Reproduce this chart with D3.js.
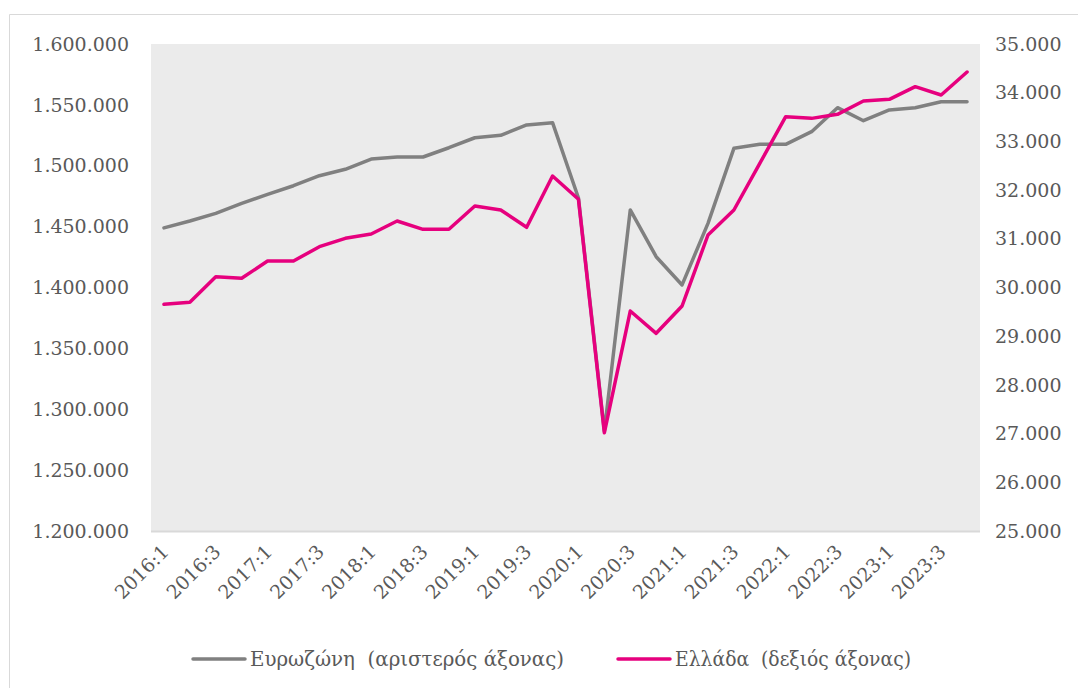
<!DOCTYPE html>
<meta charset="utf-8">
<style>
  body { margin: 0; background: #fff; }
  .tick-label { font: 19px "DejaVu Serif", serif; fill: #595959; }
  .legend-label { font: 20px "DejaVu Serif", serif; fill: #595959; white-space: pre; }
</style>
<svg width="1078" height="688"></svg>
<script src="https://d3js.org/d3.v7.min.js"></script>
<script>
  // quarters 2016:1 .. 2023:4
  var quarters = [
    "2016:1","2016:2","2016:3","2016:4","2017:1","2017:2","2017:3","2017:4",
    "2018:1","2018:2","2018:3","2018:4","2019:1","2019:2","2019:3","2019:4",
    "2020:1","2020:2","2020:3","2020:4","2021:1","2021:2","2021:3","2021:4",
    "2022:1","2022:2","2022:3","2022:4","2023:1","2023:2","2023:3","2023:4"
  ];

  // Eurozone (left axis)
  var euroArea = [
    1449000, 1454600, 1460900, 1469100, 1476500, 1483600, 1491800, 1497100,
    1505500, 1507200, 1507200, 1514800, 1523000, 1525000, 1533500, 1535400,
    1473500, 1282000, 1463700, 1425300, 1402100, 1452700, 1514300, 1517600,
    1517600, 1528000, 1547700, 1537000, 1545800, 1547700, 1552600, 1552600
  ];

  // Greece (right axis)
  var greece = [
    29655, 29696, 30222, 30189, 30544, 30544, 30838, 31010,
    31099, 31366, 31195, 31195, 31674, 31591, 31236, 32290,
    31811, 27018, 29517, 29059, 29620, 31078, 31591, 32550,
    33508, 33473, 33556, 33830, 33864, 34124, 33953, 34425
  ];

  var leftTicks = [1200000, 1250000, 1300000, 1350000, 1400000, 1450000, 1500000, 1550000, 1600000];
  var rightTicks = [25000, 26000, 27000, 28000, 29000, 30000, 31000, 32000, 33000, 34000, 35000];

  var seriesNames = ["Ευρωζώνη  (αριστερός άξονας)", "Ελλάδα  (δεξιός άξονας)"];
  var seriesColors = ["#808080", "#e6007e"];

  var svg = d3.select("svg");
  var plot = { left: 151, right: 980, top: 44, bottom: 531 };

  // frame
  svg.append("path")
    .attr("d", "M9.5,688 V14.5 H1078")
    .attr("fill", "none")
    .attr("stroke", "#d9d9d9")
    .attr("stroke-width", 1);

  var x = d3.scaleBand().domain(quarters).range([plot.left, plot.right]);
  var yL = d3.scaleLinear().domain([1200000, 1600000]).range([plot.bottom, plot.top]);
  var yR = d3.scaleLinear().domain([25000, 35000]).range([plot.bottom, plot.top]);

  var fmt = function (v) { return d3.format(",")(v).replace(/,/g, "."); };

  svg.append("rect")
    .attr("x", plot.left).attr("y", plot.top)
    .attr("width", plot.right - plot.left).attr("height", plot.bottom - plot.top)
    .attr("fill", "#ebebeb");

  svg.append("line")
    .attr("x1", plot.left).attr("x2", plot.right)
    .attr("y1", plot.bottom + 0.5).attr("y2", plot.bottom + 0.5)
    .attr("stroke", "#d9d9d9").attr("stroke-width", 2);

  // left axis labels
  svg.selectAll(".yl").data(leftTicks).enter().append("text")
    .attr("class", "tick-label")
    .attr("x", 129).attr("y", function (d) { return yL(d); })
    .attr("dy", "0.35em")
    .attr("text-anchor", "end")
    .text(fmt);

  // right axis labels
  svg.selectAll(".yr").data(rightTicks).enter().append("text")
    .attr("class", "tick-label")
    .attr("x", 995).attr("y", function (d) { return yR(d); })
    .attr("dy", "0.35em")
    .attr("text-anchor", "start")
    .text(fmt);

  // x labels, every other quarter
  var xLabels = quarters.filter(function (d, i) { return i % 2 === 0; });
  svg.selectAll(".xl").data(xLabels).enter().append("text")
    .attr("class", "tick-label")
    .attr("text-anchor", "end")
    .attr("transform", function (d) {
      return "translate(" + (x(d) + x.bandwidth() / 2 + 6) + "," + (plot.bottom + 22) + ") rotate(-45)";
    })
    .text(function (d) { return d; });

  var cx = function (d, i) { return x(quarters[i]) + x.bandwidth() / 2; };

  var lineL = d3.line().x(cx).y(function (d) { return yL(d); });
  var lineR = d3.line().x(cx).y(function (d) { return yR(d); });

  svg.append("path").datum(euroArea)
    .attr("d", lineL)
    .attr("fill", "none")
    .attr("stroke", seriesColors[0])
    .attr("stroke-width", 3.5)
    .attr("stroke-linejoin", "round")
    .attr("stroke-linecap", "round");

  svg.append("path").datum(greece)
    .attr("d", lineR)
    .attr("fill", "none")
    .attr("stroke", seriesColors[1])
    .attr("stroke-width", 3.5)
    .attr("stroke-linejoin", "round")
    .attr("stroke-linecap", "round");

  // legend
  var legendX = [193, 618];
  var legendLen = [314, 236];
  var legend = svg.selectAll(".legend").data(seriesNames).enter().append("g")
    .attr("transform", function (d, i) { return "translate(" + legendX[i] + ",659)"; });
  legend.append("line")
    .attr("x1", 0).attr("x2", 52)
    .attr("stroke", function (d, i) { return seriesColors[i]; })
    .attr("stroke-width", 3.5)
    .attr("stroke-linecap", "round");
  legend.append("text")
    .attr("class", "legend-label")
    .attr("x", 57).attr("dy", "0.35em")
    .attr("textLength", function (d, i) { return legendLen[i]; })
    .attr("lengthAdjust", "spacingAndGlyphs")
    .text(function (d) { return d; });
</script>
